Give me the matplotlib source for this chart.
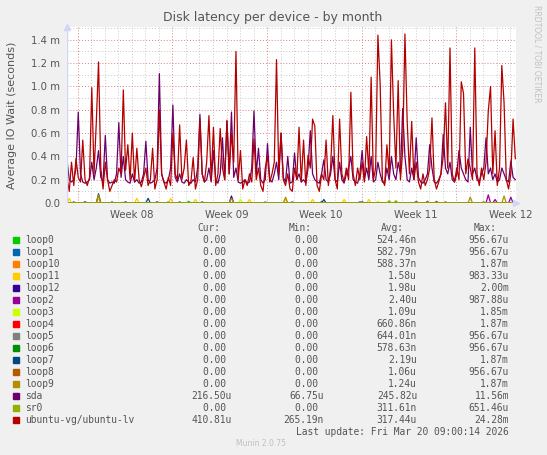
# munin diskstats latency, month view
import matplotlib.pyplot as plt
import numpy as np
from matplotlib.patches import Rectangle

W, H = 547, 455

# values in milliseconds, one sample every 4 hours
start_day = -0.8   # days relative to Monday of week 08
step_day = 1 / 6

sda = [0.37, 0.20, 0.18, 0.20, 0.30, 0.78, 0.25, 0.18, 0.17, 0.18,
       0.20, 0.35, 0.20, 0.30, 0.45, 0.22, 0.18, 0.58, 0.20, 0.17,
       0.18, 0.17, 0.25, 0.69, 0.22, 0.40, 0.20, 0.18, 0.17, 0.25,
       0.18, 0.20, 0.17, 0.18, 0.25, 0.53, 0.20, 0.17, 0.18, 0.20,
       0.30, 1.11, 0.25, 0.18, 0.17, 0.20, 0.30, 0.84, 0.22, 0.18,
       0.25, 0.18, 0.17, 0.20, 0.18, 0.17, 0.20, 0.18, 0.30, 0.76,
       0.25, 0.18, 0.20, 0.30, 0.18, 0.45, 0.20, 0.17, 0.25, 0.56,
       0.20, 0.70, 0.25, 0.78, 0.22, 0.30, 0.18, 0.17, 0.18, 0.20,
       0.17, 0.18, 0.30, 0.79, 0.25, 0.47, 0.20, 0.17, 0.20, 0.51,
       0.20, 0.18, 0.25, 0.35, 0.20, 0.60, 0.22, 0.18, 0.40, 0.17,
       0.18, 0.43, 0.20, 0.25, 0.18, 0.20, 0.17, 0.30, 0.62, 0.25,
       0.20, 0.18, 0.17, 0.25, 0.37, 0.20, 0.18, 0.25, 0.40, 0.20,
       0.18, 0.35, 0.20, 0.17, 0.25, 0.30, 0.40, 0.20, 0.18, 0.17,
       0.25, 0.45, 0.20, 0.30, 0.20, 0.40, 0.18, 0.20, 0.35, 0.25,
       0.18, 0.17, 0.30, 0.20, 0.40, 0.25, 0.20, 0.35, 0.25, 0.81,
       0.40, 0.20, 0.18, 0.30, 0.20, 0.56, 0.22, 0.18, 0.17, 0.20,
       0.25, 0.50, 0.30, 0.18, 0.17, 0.20, 0.25, 0.59, 0.30, 0.25,
       0.35, 0.20, 0.18, 0.25, 0.45, 0.30, 0.25, 0.20, 0.18, 0.65,
       0.25, 0.30, 0.20, 0.18, 0.25, 0.30, 0.56, 0.25, 0.30, 0.20,
       0.25, 0.18, 0.20, 0.30, 0.25, 0.20, 0.18, 0.36, 0.22, 0.20]

ubuntu_lv = [0.22, 0.10, 0.35, 0.15, 0.38, 0.22, 0.18, 0.54, 0.20, 0.15,
             0.22, 0.99, 0.25, 0.69, 1.21, 0.30, 0.12, 0.35, 0.20, 0.10,
             0.15, 0.20, 0.18, 0.30, 0.25, 0.97, 0.28, 0.50, 0.20, 0.60,
             0.18, 0.47, 0.20, 0.14, 0.22, 0.30, 0.15, 0.20, 0.47, 0.12,
             0.20, 0.80, 0.25, 0.18, 0.12, 0.22, 0.15, 0.60, 0.25, 0.20,
             0.67, 0.20, 0.30, 0.54, 0.15, 0.18, 0.39, 0.12, 0.20, 0.72,
             0.25, 0.18, 0.35, 0.75, 0.20, 0.65, 0.15, 0.25, 0.64, 0.30,
             0.20, 0.71, 0.25, 0.60, 0.35, 1.30, 0.20, 0.45, 0.12, 0.20,
             0.15, 0.25, 0.18, 0.55, 0.20, 0.30, 0.15, 0.10, 0.30, 0.40,
             0.18, 0.25, 0.35, 1.23, 0.25, 0.60, 0.20, 0.15, 0.25, 0.12,
             0.10, 0.30, 0.20, 0.65, 0.18, 0.54, 0.15, 0.41, 0.30, 0.72,
             0.66, 0.15, 0.10, 0.25, 0.20, 0.54, 0.15, 0.30, 0.75, 0.20,
             0.12, 0.72, 0.25, 0.18, 0.30, 0.20, 0.95, 0.25, 0.15, 0.30,
             0.20, 0.35, 0.18, 0.57, 0.25, 1.08, 0.20, 0.30, 1.44, 1.02,
             0.20, 0.15, 0.50, 0.25, 1.40, 0.76, 0.30, 1.05, 0.20, 0.45,
             1.45, 0.70, 0.25, 0.70, 0.20, 0.35, 0.18, 0.12, 0.25, 0.15,
             0.20, 0.30, 0.73, 0.20, 0.12, 0.18, 0.25, 0.40, 0.86, 0.30,
             1.33, 0.25, 0.18, 0.30, 0.20, 1.04, 0.94, 0.25, 0.38, 0.30,
             0.20, 1.33, 0.25, 0.15, 0.30, 0.20, 0.35, 0.79, 1.00, 0.25,
             0.62, 0.15, 0.30, 1.18, 0.86, 0.20, 0.12, 0.25, 0.72, 0.38]

# small devices: (sample index, value) of their rare blips, zero otherwise
loop0_idx, loop0_val = [54, 88], [0.015, 0.01]
loop1_idx, loop1_val = [3, 20, 45, 60, 100, 130], [0.01, 0.01, 0.01, 0.01, 0.01, 0.01]
loop10_idx, loop10_val = [], []
loop11_idx = [1, 14, 31, 46, 57, 81, 97, 109, 123, 134]
loop11_val = [0.04, 0.04, 0.04, 0.04, 0.03, 0.03, 0.03, 0.03, 0.03, 0.03]
loop12_idx, loop12_val = [8, 26, 40, 73, 113, 131], [0.01, 0.01, 0.01, 0.06, 0.01, 0.01]
loop2_idx, loop2_val = [187, 190, 197], [0.07, 0.03, 0.05]
loop3_idx, loop3_val = [25, 77, 138], [0.01, 0.03, 0.015]
loop4_idx, loop4_val = [], []
loop5_idx, loop5_val = [], []
loop6_idx, loop6_val = [50], [0.01]
loop7_idx, loop7_val = [14, 36, 114], [0.08, 0.04, 0.03]
loop8_idx, loop8_val = [155, 160, 164, 168, 185], [0.015, 0.015, 0.015, 0.01, 0.01]
loop9_idx, loop9_val = [14, 73, 97, 179, 194], [0.07, 0.04, 0.05, 0.05, 0.06]
sr0_idx, sr0_val = [143, 146], [0.02, 0.02]

names = ['loop0', 'loop1', 'loop10', 'loop11', 'loop12', 'loop2', 'loop3', 'loop4',
         'loop5', 'loop6', 'loop7', 'loop8', 'loop9', 'sda', 'sr0', 'ubuntu-vg/ubuntu-lv']
colors = ['#00CC00', '#0066B3', '#FF8000', '#FFCC00', '#330099', '#990099', '#CCFF00', '#FF0000',
          '#808080', '#008F00', '#00487D', '#B35A00', '#B38F00', '#6B006B', '#8FB300', '#B30000']
cur = ['0.00', '0.00', '0.00', '0.00', '0.00', '0.00', '0.00', '0.00',
       '0.00', '0.00', '0.00', '0.00', '0.00', '216.50u', '0.00', '410.81u']
mins = ['0.00', '0.00', '0.00', '0.00', '0.00', '0.00', '0.00', '0.00',
        '0.00', '0.00', '0.00', '0.00', '0.00', '66.75u', '0.00', '265.19n']
avgs = ['524.46n', '582.79n', '588.37n', '1.58u', '1.98u', '2.40u', '1.09u', '660.86n',
        '644.01n', '578.63n', '2.19u', '1.06u', '1.24u', '245.82u', '311.61n', '317.44u']
maxs = ['956.67u', '956.67u', '1.87m', '983.33u', '2.00m', '987.88u', '1.85m', '1.87m',
        '956.67u', '956.67u', '1.87m', '956.67u', '1.87m', '11.56m', '651.46u', '24.28m']

n = len(sda)
t = start_day + np.arange(n) * step_day


def blips(idx, val):
    s = np.zeros(n)
    s[idx] = val
    return s


series = [blips(loop0_idx, loop0_val), blips(loop1_idx, loop1_val),
          blips(loop10_idx, loop10_val), blips(loop11_idx, loop11_val),
          blips(loop12_idx, loop12_val), blips(loop2_idx, loop2_val),
          blips(loop3_idx, loop3_val), blips(loop4_idx, loop4_val),
          blips(loop5_idx, loop5_val), blips(loop6_idx, loop6_val),
          blips(loop7_idx, loop7_val), blips(loop8_idx, loop8_val),
          blips(loop9_idx, loop9_val), np.array(sda),
          blips(sr0_idx, sr0_val), np.array(ubuntu_lv)]

txt = '#555555'
fig = plt.figure(figsize=(W / 100, H / 100), dpi=100, facecolor='#F0F0F0')
ax = fig.add_axes([67 / W, 1 - 203 / H, 449 / W, 176 / H])
ax.set_facecolor('white')
ax.set_xlim(t[0], t[-1] + 0.05)
ax.set_ylim(0, 1.51)

# rrdtool style grid
for d in range(0, 33):
    c = '#E08080' if d % 7 == 0 else '#C8C8C8'
    ax.axvline(d, color=c, lw=0.7, ls=(0, (1, 2)), zorder=0)
for k in range(1, 16):
    c = '#E08080' if k % 2 == 0 else '#C8C8C8'
    ax.axhline(k / 10, color=c, lw=0.7, ls=(0, (1, 2)), zorder=0)

for s, c in zip(series, colors):
    ax.plot(t, s, color=c, lw=0.9, zorder=2)

for sp in ax.spines.values():
    sp.set_visible(False)
ax.axvline(t[0], color='#CFD6F8', lw=1.0, zorder=3)
ax.plot([t[0]], [1.51], marker='^', color='#CFD6F8', ms=5, clip_on=False, zorder=4)
ax.plot([t[-1] + 0.05], [0], marker='>', color='#CFD6F8', ms=5, clip_on=False, zorder=4)

yt = np.arange(0, 1.41, 0.2)
ax.set_yticks(yt)
ax.set_yticklabels(['0.0'] + ['%.1f m' % v for v in yt[1:]])
ax.set_xticks([4, 11, 18, 25, 32])
ax.set_xticklabels(['Week 08', 'Week 09', 'Week 10', 'Week 11', 'Week 12'])
ax.tick_params(length=0, labelsize=7.3, colors=txt, pad=5)
ax.set_ylabel('Average IO Wait (seconds)', fontsize=8, color=txt, labelpad=10)

fig.text(273 / W, 1 - 18 / H, 'Disk latency per device - by month', ha='center',
         va='center', fontsize=9, color=txt)
fig.text(537 / W, 1 - 5 / H, 'RRDTOOL / TOBI OETIKER', rotation=270, ha='center',
         va='top', fontsize=5.5, color='#C0C0C0')

mono = dict(family='DejaVu Sans Mono', fontsize=6.9, color=txt, va='center')
y0 = 228.3
for label, xr in [('Cur:', 220), ('Min:', 312), ('Avg:', 404), ('Max:', 497)]:
    fig.text(xr / W, 1 - y0 / H, label, ha='right', **mono)


def fmt(v):
    return v if v[-1].isalpha() else v + ' '


for i, name in enumerate(names):
    yy = 1 - (y0 + 11.5 + 12 * i) / H
    fig.patches.append(Rectangle((13 / W, yy - 3 / H), 6 / W, 6 / H, color=colors[i],
                                 transform=fig.transFigure, figure=fig))
    fig.text(25 / W, yy, name, ha='left', **mono)
    fig.text(232 / W, yy, fmt(cur[i]), ha='right', **mono)
    fig.text(324 / W, yy, fmt(mins[i]), ha='right', **mono)
    fig.text(417 / W, yy, fmt(avgs[i]), ha='right', **mono)
    fig.text(509 / W, yy, fmt(maxs[i]), ha='right', **mono)

fig.text(509 / W, 1 - 431.7 / H, 'Last update: Fri Mar 20 09:00:14 2026', ha='right', **mono)
fig.text(261 / W, 1 - 444 / H, 'Munin 2.0.75', ha='center', va='center',
         fontsize=5.5, color='#C0C0C0')

fig.savefig('out.png', dpi=100, facecolor=fig.get_facecolor())
